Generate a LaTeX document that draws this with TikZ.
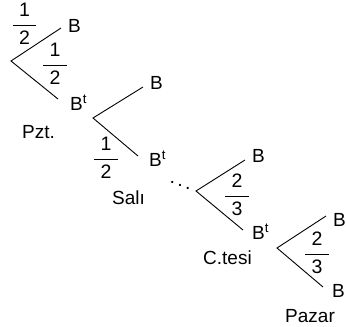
\documentclass[tikz,border=0pt]{standalone}
\usepackage{amsmath}
\usepackage{fontspec}
\setmainfont{Liberation Sans}
\newcommand\frk[2]{$\displaystyle\genfrac{}{}{0.8pt}{0}{\text{\hspace{6.5pt}#1\hspace{6.5pt}}}{\text{\hspace{6.5pt}#2\hspace{6.5pt}}}$}
\tikzset{
  br/.style={line width=0.9pt},
  lbl/.style={anchor=base west, inner sep=0pt, font=\fontsize{19}{22}\selectfont},
  frc/.style={anchor=center, inner sep=0pt, font=\fontsize{19.5}{22}\selectfont}
}
\begin{document}
\begin{tikzpicture}[x=1pt,y=-1pt]
\useasboundingbox (0,0) rectangle (346,327);
% tree 1
\coordinate (r1) at (11,61);
\coordinate (u1) at (61,28);
\coordinate (l1) at (58,99);
\draw[br] (u1) -- (r1) -- (l1);
\node[lbl] (b1) at (68,32) {B};
\node[lbl] (bt1) at (70,110) {B\textsuperscript{t}};
\node[frc] (f1) at (24.5,24) {\frk{1}{2}};
\node[frc] (f2) at (55,64) {\frk{1}{2}};
\node[lbl] (pzt) at (22,138) {Pzt.};
% tree 2
\coordinate (r2) at (93,118);
\coordinate (u2) at (143,87);
\coordinate (l2) at (138,156);
\draw[br] (u2) -- (r2) -- (l2);
\node[lbl] (b2) at (150,89) {B};
\node[lbl] (bt2) at (149,166) {B\textsuperscript{t}};
\node[frc] (f3) at (106,158) {\frk{1}{2}};
\node[lbl] (sali) at (112,204) {Salı};
\node[frc] (dots) at (180,182) {$\ddots$};
% tree 3
\coordinate (r3) at (196,191);
\coordinate (u3) at (245,160);
\coordinate (l3) at (243,230);
\draw[br] (u3) -- (r3) -- (l3);
\node[lbl] (b3) at (252,162) {B};
\node[lbl] (bt3) at (252,239) {B\textsuperscript{t}};
\node[frc] (f4) at (237,195) {\frk{2}{3}};
\node[lbl] (ctesi) at (203,264) {C.tesi};
% tree 4
\coordinate (r4) at (277,248);
\coordinate (u4) at (326,216);
\coordinate (l4) at (323,287);
\draw[br] (u4) -- (r4) -- (l4);
\node[lbl] (b4) at (333,226) {B};
\node[lbl] (b4b) at (332,297) {B};
\node[frc] (f5) at (317,253) {\frk{2}{3}};
\node[lbl] (pazar) at (285,322) {Pazar};
\end{tikzpicture}
\end{document}
